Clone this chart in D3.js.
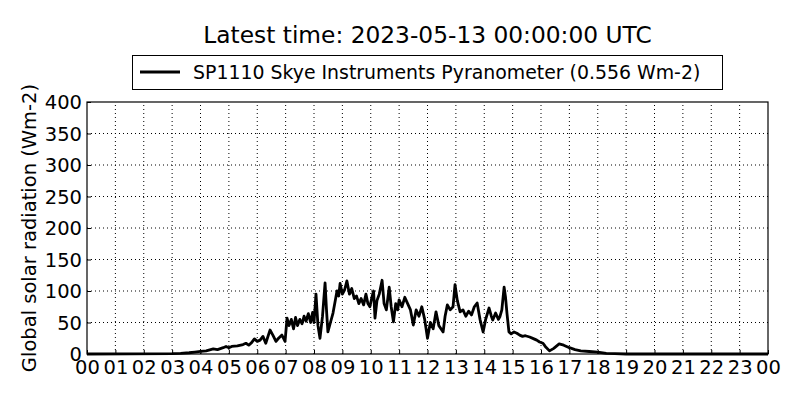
<!DOCTYPE html>
<html><head><meta charset="utf-8">
<script src="https://cdn.jsdelivr.net/npm/d3@7"></script>
<style>body{margin:0;background:#fff;}svg{display:block;font-family:"DejaVu Sans",sans-serif;}</style>
</head><body>
<script>
const titleText = "Latest time: 2023-05-13 00:00:00 UTC";
const seriesName = "SP1110 Skye Instruments Pyranometer (0.556 Wm-2)";
const yLabel = "Global solar radiation (Wm-2)";
const xTickLabels = ["00","01","02","03","04","05","06","07","08","09","10","11","12","13","14","15","16","17","18","19","20","21","22","23","00"];
const yTicks = [0,50,100,150,200,250,300,350,400];
const hours = [0,3.0,3.3,3.6,3.8,4.0,4.2,4.45,4.6,4.8,4.9,5.0,5.1,5.3,5.5,5.6,5.7,5.8,5.9,6.0,6.1,6.2,6.3,6.45,6.55,6.66,6.75,6.87,6.98,
7.05,7.12,7.2,7.28,7.35,7.42,7.5,7.58,7.65,7.72,7.8,7.88,7.95,8.0,8.07,8.14,8.21,8.3,8.39,8.44,8.49,8.58,8.67,8.75,8.81,8.87,8.92,
9.0,9.08,9.16,9.25,9.33,9.42,9.5,9.58,9.66,9.75,9.83,9.9,9.97,10.05,10.1,10.15,10.22,10.3,10.4,10.47,10.55,10.65,10.72,10.8,10.88,10.95,
11.0,11.1,11.2,11.3,11.4,11.5,11.6,11.7,11.8,11.9,12.0,12.1,12.2,12.3,12.4,12.55,12.62,12.7,12.8,12.9,12.97,13.05,13.15,13.25,13.35,13.45,13.55,13.65,13.75,13.85,13.96,
14.05,14.17,14.25,14.3,14.4,14.5,14.55,14.62,14.7,14.75,14.8,14.87,14.95,15.05,15.15,15.25,15.35,15.45,15.6,15.75,15.85,15.95,16.07,16.15,16.3,16.45,16.64,16.8,
17.0,17.2,17.4,17.7,18.0,18.3,18.6,19,24];
const radiation = [0,0.5,1,2,3,4,5,8,7,10,12,10,12,13,15,17,14,18,24,20,22,28,17,38,30,20,25,30,20,
57,45,55,40,58,45,55,48,60,52,64,50,66,50,95,45,25,60,113,70,35,50,65,85,100,92,112,
95,102,116,95,104,88,92,80,88,78,95,80,75,92,100,57,85,95,117,80,70,106,75,51,80,70,
86,75,90,80,70,46,70,60,75,55,25,50,40,67,45,35,60,78,70,75,110,85,67,70,60,68,62,75,81,55,35,
55,73,60,54,65,55,59,70,106,90,65,35,32,35,33,30,28,29,27,24,22,19,17,12,5,9,16,14,
10,7,5,4,3,1,0.5,0,0];

const W=800,H=400;
const m={left:87,right:32,top:102,bottom:46};
const svg=d3.select("body").append("svg").attr("width",W).attr("height",H);
const x=d3.scaleLinear().domain([0,24]).range([m.left,W-m.right]);
const y=d3.scaleLinear().domain([0,400]).range([H-m.bottom,m.top]);

// grid
const g=svg.append("g");
g.selectAll(".vg").data(d3.range(1,24)).join("line")
 .attr("x1",d=>x(d)).attr("x2",d=>x(d)).attr("y1",y(0)).attr("y2",y(400))
 .attr("stroke","#000").attr("stroke-width",1).attr("stroke-dasharray","1,3");
g.selectAll(".hg").data(yTicks.slice(1,-1)).join("line")
 .attr("x1",x(0)).attr("x2",x(24)).attr("y1",d=>y(d)).attr("y2",d=>y(d))
 .attr("stroke","#000").attr("stroke-width",1).attr("stroke-dasharray","1,3");

// axes
const xa=svg.append("g").attr("transform",`translate(0,${y(0)})`)
 .call(d3.axisBottom(x).tickValues(d3.range(0,25)).tickFormat((d,i)=>xTickLabels[i]).tickSizeInner(-4).tickSizeOuter(0).tickPadding(6));
const ya=svg.append("g").attr("transform",`translate(${x(0)},0)`)
 .call(d3.axisLeft(y).tickValues(yTicks).tickSizeInner(-4).tickSizeOuter(0).tickPadding(5));
[xa,ya].forEach(a=>{a.select(".domain").remove();a.selectAll("text").attr("font-size",19.5).attr("fill","#000").attr("font-family","DejaVu Sans");a.selectAll("line").attr("stroke","#000");});
ya.selectAll("text").attr("dy","0.35em");
xa.selectAll("text").attr("dy","0.72em");

// frame
svg.append("rect").attr("x",x(0)).attr("y",y(400)).attr("width",x(24)-x(0)).attr("height",y(0)-y(400))
 .attr("fill","none").attr("stroke","#000").attr("stroke-width",1.2);

// line
const line=d3.line().x((d,i)=>x(hours[i])).y(d=>y(d));
svg.append("path").datum(radiation).attr("d",line).attr("fill","none").attr("stroke","#000").attr("stroke-width",2.8).attr("stroke-linejoin","round");

// title
svg.append("text").attr("x",(x(0)+x(24))/2).attr("y",43).attr("text-anchor","middle").attr("font-size",23.3).attr("fill","#000").text(titleText);

// legend
const lg=svg.append("g");
lg.append("rect").attr("x",132.5).attr("y",55.5).attr("width",590).attr("height",34).attr("fill","#fff").attr("stroke","#000").attr("stroke-width",1);
lg.append("line").attr("x1",140).attr("x2",180).attr("y1",72).attr("y2",72).attr("stroke","#000").attr("stroke-width",2.8);
lg.append("text").attr("x",193).attr("y",79).attr("font-size",18.9).attr("fill","#000").text(seriesName);

// y label
svg.append("text").attr("transform",`translate(36,${(y(0)+y(400))/2}) rotate(-90)`).attr("text-anchor","middle").attr("font-size",19.5).attr("fill","#000").text(yLabel);
</script>
</body></html>
